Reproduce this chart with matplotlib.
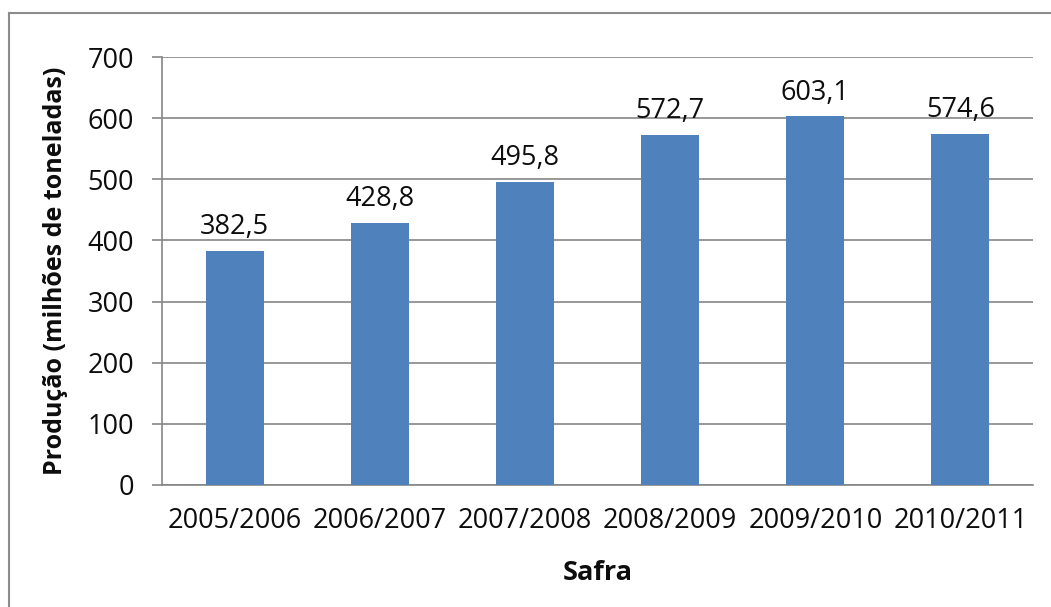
import matplotlib.pyplot as plt
from matplotlib.lines import Line2D

# Sugarcane production by harvest season
safras = ["2005/2006", "2006/2007", "2007/2008", "2008/2009", "2009/2010", "2010/2011"]
producao = [382.5, 428.8, 495.8, 572.7, 603.1, 574.6]
y_ticks = [0, 100, 200, 300, 400, 500, 600, 700]

plt.rcParams['font.family'] = ['Open Sans', 'DejaVu Sans']
FS = 19.5
TXT = "#0d0d0d"

fig = plt.figure(figsize=(10.51, 6.07), dpi=100)
ax = fig.add_axes([0.1541, 0.201, 0.8288, 0.705])

grid_color = "#868686"
x = range(len(safras))
bars = ax.bar(x, producao, width=0.4, color="#4F81BD", zorder=3)

# value labels above each bar, comma as decimal separator
for xi, v in zip(x, producao):
    ax.annotate(f"{v:.1f}".replace(".", ","), (xi, v), xytext=(0, 7),
                textcoords="offset points", ha="center", va="bottom",
                fontsize=FS, color=TXT)

ax.set_xlim(-0.5, len(safras) - 0.5)
ax.set_ylim(0, 700)
ax.set_yticks(y_ticks)
ax.set_xticks(list(x))
ax.set_xticklabels(safras)
ax.yaxis.grid(True, color=grid_color, linewidth=1.2, zorder=0)

for side in ["top", "right"]:
    ax.spines[side].set_visible(False)
for side in ["left", "bottom"]:
    ax.spines[side].set_color(grid_color)
    ax.spines[side].set_linewidth(1.2)

ax.tick_params(axis="y", length=7, width=1.2, color=grid_color, pad=13,
               labelsize=FS, labelcolor=TXT)
ax.tick_params(axis="x", length=0, pad=16, labelsize=FS, labelcolor=TXT)

ax.set_xlabel("Safra", fontsize=FS, fontweight="bold", labelpad=18, color=TXT)
ax.set_ylabel("Produção (milhões de toneladas)", fontsize=18, fontweight="bold",
              labelpad=14, color=TXT)

# chart frame (only left and top edges fall inside the image)
x0 = 9 / 1051
y1 = 1 - 13 / 607
fig.add_artist(Line2D([x0, x0], [0, y1], transform=fig.transFigure,
                      color="#8c8c8c", linewidth=1.5))
fig.add_artist(Line2D([x0, 1], [y1, y1], transform=fig.transFigure,
                      color="#8c8c8c", linewidth=1.5))

fig.savefig("out.png", dpi=100, facecolor="white")
